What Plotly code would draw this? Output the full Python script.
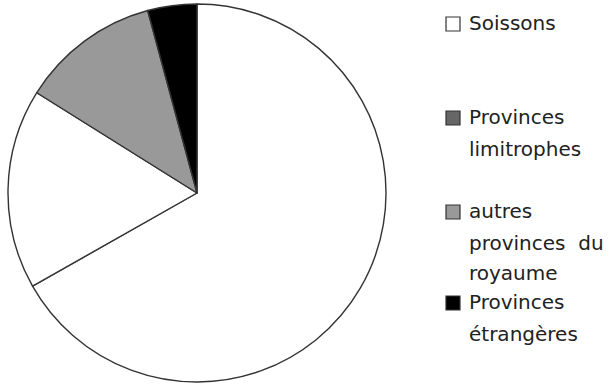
import plotly.graph_objects as go

# ---- data ----
labels = ["Soissons", "Provinces limitrophes", "autres provinces du royaume", "Provinces étrangères"]
values = [66.8, 17.1, 11.9, 4.2]
slice_colors = ["#ffffff", "#ffffff", "#999999", "#000000"]
legend_colors = ["#ffffff", "#666666", "#999999", "#000000"]
legend_lines = [["Soissons"], ["Provinces", "limitrophes"],
                ["autres", "provinces  du", "royaume"], ["Provinces", "étrangères"]]

W, H = 615, 387

fig = go.Figure()
fig.add_trace(go.Pie(
    labels=labels, values=values, sort=False, direction="clockwise", rotation=0,
    marker=dict(colors=slice_colors, line=dict(color="#333333", width=1.4)),
    textinfo="none", showlegend=False,
    domain=dict(x=[8 / W, 386 / W], y=[1 - 382 / H, 1 - 4 / H]),
))

# custom legend (swatch colours differ from slices in the original)
line_y = [[23], [117, 149], [211, 243, 273], [302, 334]]
swatch_y = [24, 118, 212, 303]
font = dict(family="DejaVu Sans, Arial, sans-serif", size=20, color="#222222")
shapes = []
annotations = []
for i, lines in enumerate(legend_lines):
    sy = swatch_y[i]
    shapes.append(dict(type="rect", xref="paper", yref="paper",
                       x0=446 / W, x1=460 / W, y0=1 - (sy + 7) / H, y1=1 - (sy - 7) / H,
                       fillcolor=legend_colors[i], line=dict(color="#333333", width=1.2)))
    for j, txt in enumerate(lines):
        annotations.append(dict(text=txt, xref="paper", yref="paper",
                                x=467 / W, y=1 - line_y[i][j] / H,
                                xanchor="left", yanchor="middle", showarrow=False, font=font))

fig.update_layout(width=W, height=H, margin=dict(l=0, r=0, t=0, b=0),
                  paper_bgcolor="white", plot_bgcolor="white",
                  shapes=shapes, annotations=annotations)
fig.write_html("out.html")
